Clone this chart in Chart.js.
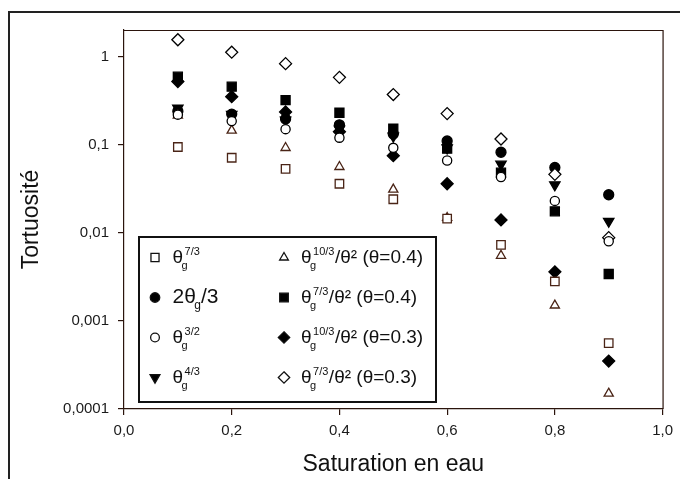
<!DOCTYPE html>
<html lang="fr">
<head>
  <meta charset="UTF-8" />
  <title>Tortuosité vs saturation en eau</title>
  <script src="https://cdn.jsdelivr.net/npm/chart.js"></script>
  <style>
    body { margin: 0; padding: 0; background: white; }
    #wrap { width: 680px; height: 479px; }
  </style>
</head>
<body>
  <div id="wrap"><canvas id="tortChart" width="680" height="479"></canvas></div>

  <script>
    // data
    const saturation = [0.1, 0.2, 0.3, 0.4, 0.5, 0.6, 0.7, 0.8, 0.9];

    const thetaG73      = [0.094, 0.071, 0.053, 0.036, 0.024, 0.0145, 0.0073, 0.0028, 0.00056];
    const twoThetaG3    = [0.24, 0.222, 0.195, 0.168, 0.132, 0.11, 0.082, 0.055, 0.027];
    const thetaG32      = [0.219, 0.185, 0.15, 0.12, 0.092, 0.066, 0.043, 0.023, 0.008];
    const thetaG43      = [0.26, 0.22, 0.19, 0.15, 0.125, 0.092, 0.06, 0.035, 0.0135];
    const millington04  = [0.215, 0.145, 0.092, 0.056, 0.031, 0.0148, 0.0055, 0.0015, 0.00015];
    const moldrup04     = [0.59, 0.455, 0.32, 0.23, 0.152, 0.09, 0.048, 0.0175, 0.0034];
    const millington03  = [0.52, 0.35, 0.235, 0.14, 0.075, 0.036, 0.014, 0.0036, 0.00035];
    const moldrup03     = [1.55, 1.12, 0.83, 0.58, 0.37, 0.225, 0.116, 0.046, 0.0088];

    const seriesLabels = [
      "θ_{g}^{7/3}", "2θ_{g}/3", "θ_{g}^{3/2}", "θ_{g}^{4/3}",
      "θ_{g}^{10/3}/θ² (θ=0.4)", "θ_{g}^{7/3}/θ² (θ=0.4)",
      "θ_{g}^{10/3}/θ² (θ=0.3)", "θ_{g}^{7/3}/θ² (θ=0.3)"
    ];
    const seriesValues = [thetaG73, twoThetaG3, thetaG32, thetaG43,
                          millington04, moldrup04, millington03, moldrup03];

    const xTicks = [0, 0.2, 0.4, 0.6, 0.8, 1.0];
    const xTickLabels = ["0,0", "0,2", "0,4", "0,6", "0,8", "1,0"];
    const yTicks = [0.0001, 0.001, 0.01, 0.1, 1];
    const yTickLabels = ["0,0001", "0,001", "0,01", "0,1", "1"];

    const FONT = '"Liberation Sans", Arial, sans-serif';
    const AXIS = "#2b140c";
    const BROWN = "#4a2416";

    // marker styles, same order as the series
    const markers = [
      { style: "rect",     r: 6,   fill: "#ffffff", line: BROWN,  rot: 0 },
      { style: "circle",   r: 5,   fill: "#000000", line: "#000", rot: 0 },
      { style: "circle",   r: 4.6, fill: "#ffffff", line: "#000", rot: 0 },
      { style: "triangle", r: 6,   fill: "#000000", line: "#000", rot: 180 },
      { style: "triangle", r: 5.3, fill: "#ffffff", line: BROWN,  rot: 0 },
      { style: "rect",     r: 6.4, fill: "#000000", line: "#000", rot: 0 },
      { style: "rectRot",  r: 6,   fill: "#000000", line: "#000", rot: 0 },
      { style: "rectRot",  r: 6,   fill: "#ffffff", line: "#000", rot: 0 }
    ];
    const legendFontSize = [19, 21, 19, 19, 19, 19, 19, 19];

    function parseRich(s) {
      const segs = [];
      let buf = "", i = 0;
      while (i < s.length) {
        const c = s[i];
        if ((c === "_" || c === "^") && s[i + 1] === "{") {
          if (buf) { segs.push({ t: buf, k: "n" }); buf = ""; }
          const end = s.indexOf("}", i);
          segs.push({ t: s.slice(i + 2, end), k: c === "_" ? "sub" : "sup" });
          i = end + 1;
        } else { buf += c; i++; }
      }
      if (buf) segs.push({ t: buf, k: "n" });
      return segs;
    }
    const plainLabel = s => parseRich(s).map(p => p.t).join("");

    function drawMarker(ctx, m, x, y) {
      ctx.save();
      ctx.fillStyle = m.fill;
      ctx.strokeStyle = m.line;
      ctx.lineWidth = 1.3;
      ctx.beginPath();
      if (m.style === "circle") {
        ctx.arc(x, y, m.r, 0, Math.PI * 2);
      } else if (m.style === "rect") {
        const h = m.r * Math.SQRT1_2;
        ctx.rect(x - h, y - h, 2 * h, 2 * h);
      } else if (m.style === "rectRot") {
        ctx.moveTo(x, y - m.r); ctx.lineTo(x + m.r, y);
        ctx.lineTo(x, y + m.r); ctx.lineTo(x - m.r, y);
        ctx.closePath();
      } else if (m.style === "triangle") {
        const s = m.rot === 180 ? -1 : 1;
        const a = m.r * Math.sqrt(3) / 2;
        ctx.moveTo(x, y - s * m.r);
        ctx.lineTo(x + a, y + s * m.r / 2);
        ctx.lineTo(x - a, y + s * m.r / 2);
        ctx.closePath();
      }
      ctx.fill();
      ctx.stroke();
      ctx.restore();
    }

    function drawRich(ctx, text, x, baseline, size) {
      const small = Math.round(size * 0.58);
      let subStart = null, prevSub = false;
      parseRich(text).forEach(seg => {
        if (seg.k === "n") {
          ctx.font = size + "px " + FONT;
          ctx.fillText(seg.t, x, baseline);
          x += ctx.measureText(seg.t).width;
          prevSub = false;
        } else if (seg.k === "sub") {
          ctx.font = small + "px " + FONT;
          subStart = x - 1.5;
          ctx.fillText(seg.t, subStart, baseline + 6.5);
          x = subStart + ctx.measureText(seg.t).width;
          prevSub = true;
        } else {
          ctx.font = small + "px " + FONT;
          const sx = prevSub ? subStart + 3 : x;
          ctx.fillText(seg.t, sx, baseline - 7.5);
          x = Math.max(x, sx + ctx.measureText(seg.t).width) + 0.5;
          prevSub = false;
        }
      });
    }

    const framePlugin = {
      id: "frame",
      beforeDraw(chart) {
        const ctx = chart.ctx;
        ctx.save();
        ctx.fillStyle = "#ffffff";
        ctx.fillRect(0, 0, chart.width, chart.height);
        ctx.strokeStyle = "#222";
        ctx.lineWidth = 2;
        ctx.strokeRect(9, 12, 720, 520);
        ctx.restore();
      },
      afterDraw(chart) {
        const a = chart.chartArea;
        const ctx = chart.ctx;
        ctx.save();
        ctx.strokeStyle = AXIS;
        ctx.lineWidth = 1.2;
        ctx.beginPath();
        ctx.moveTo(a.left, a.top + 0.5);
        ctx.lineTo(a.right + 0.5, a.top + 0.5);
        ctx.lineTo(a.right + 0.5, a.bottom);
        ctx.stroke();
        ctx.restore();
      }
    };

    const legendPlugin = {
      id: "richLegend",
      afterDatasetsDraw(chart) {
        const ctx = chart.ctx;
        const box = { x: 138, y: 236, w: 299, h: 167 };
        ctx.save();
        ctx.fillStyle = "#ffffff";
        ctx.fillRect(box.x, box.y, box.w, box.h);
        ctx.strokeStyle = "#111";
        ctx.lineWidth = 2;
        ctx.strokeRect(box.x + 1, box.y + 1, box.w - 2, box.h - 2);
        ctx.textBaseline = "alphabetic";
        seriesLabels.forEach((lab, i) => {
          const col = Math.floor(i / 4), row = i % 4;
          const sx = col === 0 ? 155 : 284;
          const tx = col === 0 ? 172.5 : 301;
          const sy = 257.5 + row * 40;
          drawMarker(ctx, Object.assign({}, markers[i], { line: "#111", r: markers[i].r * 0.95 }), sx, sy);
          ctx.fillStyle = "#111";
          drawRich(ctx, lab, tx, sy + 5, legendFontSize[i]);
        });
        ctx.restore();
      }
    };

    const datasets = seriesValues.map((vals, i) => ({
      label: plainLabel(seriesLabels[i]),
      data: saturation.map((s, j) => ({ x: s, y: vals[j] })),
      pointStyle: markers[i].style,
      pointRotation: markers[i].rot,
      pointRadius: markers[i].r,
      pointBackgroundColor: markers[i].fill,
      pointBorderColor: markers[i].line,
      pointBorderWidth: 1.3,
      showLine: false,
      order: markers[i].fill === "#ffffff" ? 0 : 1
    }));

    new Chart(document.getElementById("tortChart"), {
      type: "scatter",
      data: { datasets: datasets },
      options: {
        responsive: false,
        animation: false,
        devicePixelRatio: 1,
        events: [],
        layout: { padding: { left: 0, top: 30, right: 11, bottom: 0 } },
        plugins: { legend: { display: false }, tooltip: { enabled: false } },
        scales: {
          x: {
            type: "linear",
            min: 0, max: 1,
            afterBuildTicks: s => { s.ticks = xTicks.map(v => ({ value: v })); },
            afterFit: s => { s.height = 70; },
            ticks: {
              color: "#1a1a1a",
              font: { family: FONT, size: 15 },
              padding: 7,
              maxRotation: 0,
              callback: v => xTickLabels[xTicks.indexOf(v)]
            },
            grid: { drawOnChartArea: false, drawTicks: true, tickLength: 6, color: AXIS, lineWidth: 1.2 },
            border: { display: true, color: AXIS, width: 1.2 },
            title: {
              display: true, text: "Saturation en eau", color: "#111",
              font: { family: FONT, size: 23, lineHeight: 1 },
              padding: { top: 0, bottom: 2.5 }
            }
          },
          y: {
            type: "logarithmic",
            min: 0.0001, max: 2,
            afterBuildTicks: s => { s.ticks = yTicks.map(v => ({ value: v })); },
            afterFit: s => { s.width = 124; },
            ticks: {
              color: "#1a1a1a",
              font: { family: FONT, size: 15 },
              padding: 9,
              callback: v => yTickLabels[yTicks.indexOf(v)]
            },
            grid: { drawOnChartArea: false, drawTicks: true, tickLength: 6, color: AXIS, lineWidth: 1.2 },
            border: { display: true, color: AXIS, width: 1.2 },
            title: {
              display: true, text: "Tortuosité", color: "#111",
              font: { family: FONT, size: 23, lineHeight: 1 },
              padding: { top: 20.5, bottom: 0 }
            }
          }
        }
      },
      plugins: [framePlugin, legendPlugin]
    });
  </script>
</body>
</html>
